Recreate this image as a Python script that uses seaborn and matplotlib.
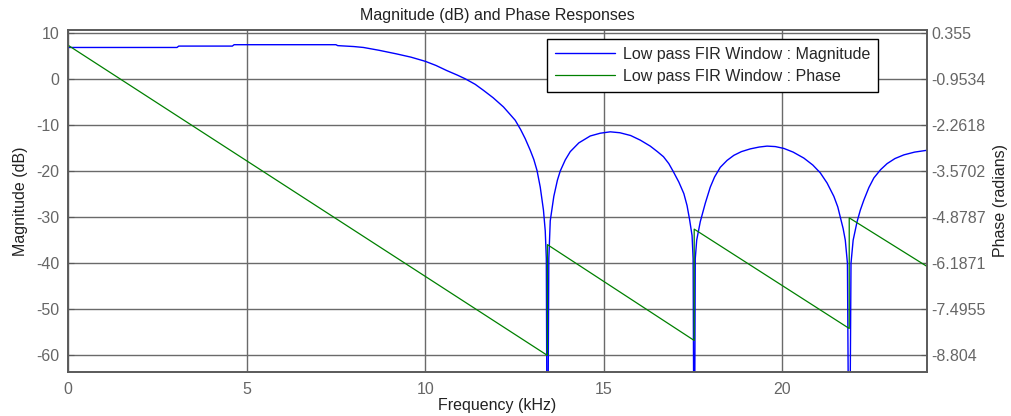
import matplotlib
matplotlib.use("Agg")
import matplotlib.pyplot as plt
import seaborn as sns
import pandas as pd

# --- datos ---
mag_freq = [0, 3.05, 3.1, 4.6, 4.65, 7.5, 7.55, 8.0, 8.27, 8.7, 9.2, 9.6, 10.0, 10.3,
            10.6, 10.9, 11.12, 11.4, 11.63, 11.9, 12.19, 12.35, 12.52, 12.67, 12.8,
            12.94, 13.04, 13.13, 13.22, 13.31, 13.36, 13.39, 13.42,
            13.46, 13.5, 13.6, 13.7, 13.78, 13.92, 14.06, 14.3, 14.62, 14.9, 15.18,
            15.45, 15.75, 16.02, 16.3, 16.5, 16.67, 16.82, 16.95, 17.1, 17.24, 17.33,
            17.4, 17.47, 17.5, 17.53,
            17.56, 17.6, 17.7, 17.84, 17.98, 18.1, 18.26, 18.45, 18.64, 18.85, 19.1,
            19.35, 19.57, 19.8, 20.04, 20.3, 20.6, 20.85, 21.06, 21.25, 21.44, 21.55,
            21.62, 21.7, 21.76, 21.82, 21.87,
            21.92, 21.98, 22.09, 22.18, 22.28, 22.42, 22.56, 22.75, 22.93, 23.15,
            23.4, 23.7, 24.05]
mag_db = [6.8, 6.8, 7.1, 7.1, 7.4, 7.4, 7.2, 7.0, 6.8, 6.2, 5.4, 4.7, 3.8, 2.9,
          1.8, 0.8, 0.0, -1.2, -2.5, -4.1, -6.1, -7.5, -9.0, -11.0, -13.0,
          -15.5, -17.5, -19.9, -23.5, -28.5, -33, -39, -100,
          -39, -30.8, -25.5, -22, -20, -17.6, -15.8, -13.9, -12.4, -11.8, -11.5,
          -11.7, -12.3, -13.3, -14.6, -15.8, -16.9, -18.4, -20.2, -22.4, -24.9, -27.5,
          -30.5, -34, -39, -100,
          -39, -35, -31, -27, -23.5, -21.3, -19.2, -17.7, -16.6, -15.8, -15.2,
          -14.8, -14.6, -14.7, -15.1, -15.9, -17.2, -18.7, -20.4, -22.6, -25.5, -27.8,
          -30, -32.5, -35, -40, -100,
          -40, -35, -31, -28.5, -26.3, -23.6, -21.5, -19.7, -18.4, -17.3,
          -16.5, -15.9, -15.5]

phase_freq = [0, 13.42, 13.42, 17.53, 17.53, 21.87, 21.87, 24.05]
phase_rad = [0.0, -8.804, -5.66, -8.38, -5.22, -8.04, -4.90, -6.28]

db_ticks = [-60, -50, -40, -30, -20, -10, 0, 10]
phase_ticks = [-8.804, -7.4955, -6.1871, -4.8787, -3.5702, -2.2618, -0.9534, 0.355]
phase_labels = ["-8.804", "-7.4955", "-6.1871", "-4.8787", "-3.5702", "-2.2618", "-0.9534", "0.355"]
freq_ticks = [0, 5, 10, 15, 20]

df_mag = pd.DataFrame({"f": mag_freq, "v": mag_db})
df_ph = pd.DataFrame({"f": phase_freq, "v": phase_rad})

# --- estilo ---
sns.set_style("white")
plt.rcParams["font.family"] = ["Liberation Sans", "DejaVu Sans"]
plt.rcParams["axes.unicode_minus"] = False
gris = "#5a5a5a"
fs = 11.5

fig = plt.figure(figsize=(10.11, 4.16), dpi=100)
ax = fig.add_axes([0.0673, 0.1058, 0.8497, 0.8222])
ax2 = ax.twinx()

sns.lineplot(data=df_mag, x="f", y="v", ax=ax, color="#0000ff", lw=1.0,
             estimator=None, sort=False, label="Low pass FIR Window : Magnitude", legend=False)
sns.lineplot(data=df_ph, x="f", y="v", ax=ax2, color="#008000", lw=0.9,
             estimator=None, sort=False, label="Low pass FIR Window : Phase", legend=False)

ylo, yhi = -63.6, 10.6
ax.set_xlim(0, 24.05)
ax.set_ylim(ylo, yhi)
# eje derecho alineado con las lineas de la grilla izquierda
k = 1.3084 / 10
ax2.set_ylim(0.355 + (ylo - 10) * k, 0.355 + (yhi - 10) * k)

ax.set_xticks(freq_ticks)
ax.set_yticks(db_ticks)
ax2.set_yticks(phase_ticks)
ax2.set_yticklabels(phase_labels)

ax.grid(True, color="#6a6a6a", lw=1.0)
ax2.grid(False)
ax.set_axisbelow(True)

for a in (ax, ax2):
    for s in a.spines.values():
        s.set_color(gris)
        s.set_linewidth(1.2)
    a.tick_params(direction="in", length=4, color=gris, labelcolor="#666666", labelsize=fs)
ax.tick_params(axis="x", pad=7)
ax.tick_params(axis="y", pad=6)
ax2.tick_params(axis="y", pad=3)

ax.set_xlabel("Frequency (kHz)", fontsize=fs, color="#222222", labelpad=1)
ax.set_ylabel("Magnitude (dB)", fontsize=fs, color="#222222", labelpad=6)
ax2.set_ylabel("Phase (radians)", fontsize=fs, color="#222222", labelpad=5)
ax.set_title("Magnitude (dB) and Phase Responses", fontsize=fs, color="#222222", pad=7)

# leyenda combinada
h1, l1 = ax.get_legend_handles_labels()
h2, l2 = ax2.get_legend_handles_labels()
leg = ax2.legend(h1 + h2, l1 + l2, loc="upper right", bbox_to_anchor=(0.943, 0.974),
                 borderaxespad=0, fontsize=fs, handlelength=3.75, fancybox=False,
                 frameon=True, framealpha=1, borderpad=0.5, labelspacing=0.45,
                 handletextpad=0.5)
leg.get_frame().set_edgecolor("black")
leg.get_frame().set_linewidth(1.0)

fig.savefig("out.png", dpi=100)
